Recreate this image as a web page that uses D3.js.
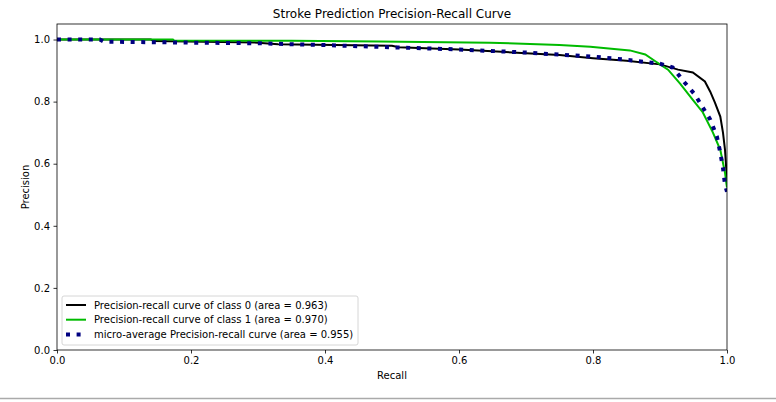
<!DOCTYPE html>
<html>
<head>
<meta charset="utf-8">
<script src="https://cdn.jsdelivr.net/npm/d3@7"></script>
<style>
  body { margin: 0; background: #fff; }
  text { font-family: "DejaVu Sans", sans-serif; fill: #000; }
</style>
</head>
<body>
<svg width="776" height="402"></svg>
<script>
// значения: полнота (recall) и точность (precision)
const class0Recall = [0, 0.02, 0.14, 0.145, 0.3, 0.33, 0.5, 0.51, 0.6, 0.65, 0.7, 0.75, 0.8, 0.85, 0.9, 0.927, 0.949, 0.967, 0.975, 0.982, 0.99, 0.994, 0.997, 0.999, 1.0];
const class0Precision = [1.0, 1.0, 1.0, 0.995, 0.99, 0.985, 0.98, 0.975, 0.968, 0.962, 0.956, 0.95, 0.94, 0.932, 0.92, 0.903, 0.894, 0.865, 0.832, 0.797, 0.752, 0.70, 0.645, 0.58, 0.53];

const class1Recall = [0, 0.173, 0.175, 0.35, 0.48, 0.646, 0.75, 0.796, 0.855, 0.878, 0.893, 0.9, 0.912, 0.93, 0.949, 0.964, 0.979, 0.99, 0.997, 1.0];
const class1Precision = [1.0, 1.0, 0.997, 0.996, 0.994, 0.99, 0.982, 0.977, 0.965, 0.952, 0.93, 0.92, 0.903, 0.858, 0.806, 0.765, 0.70, 0.645, 0.571, 0.523];

const microRecall = [0, 0.064, 0.07, 0.2, 0.3, 0.4, 0.5, 0.6, 0.7, 0.8, 0.85, 0.9, 0.919, 0.937, 0.952, 0.963, 0.975, 0.985, 0.99, 0.994, 0.997, 1.0];
const microPrecision = [1.0, 1.0, 0.993, 0.99, 0.988, 0.982, 0.975, 0.968, 0.958, 0.945, 0.935, 0.922, 0.91, 0.861, 0.823, 0.784, 0.742, 0.687, 0.635, 0.587, 0.532, 0.51];

const xTicks = [0, 0.2, 0.4, 0.6, 0.8, 1.0];
const yTicks = [0, 0.2, 0.4, 0.6, 0.8, 1.0];

const legendLabels = [
    "Precision-recall curve of class 0 (area = 0.963)",
    "Precision-recall curve of class 1 (area = 0.970)",
    "micro-average Precision-recall curve (area = 0.955)"
];

const svg = d3.select("svg");
const plotLeft = 57, plotRight = 727, plotTop = 24, plotBottom = 350;

const x = d3.scaleLinear().domain([0, 1]).range([plotLeft, plotRight]);
const y = d3.scaleLinear().domain([0, 1.05]).range([plotBottom, plotTop]);

// оси
svg.append("g")
    .attr("transform", `translate(0,${plotBottom})`)
    .call(d3.axisBottom(x).tickValues(xTicks).tickFormat(d3.format(".1f")).tickSize(3.5).tickPadding(3.5))
    .call(g => g.select(".domain").remove());
svg.append("g")
    .attr("transform", `translate(${plotLeft},0)`)
    .call(d3.axisLeft(y).tickValues(yTicks).tickFormat(d3.format(".1f")).tickSize(3.5).tickPadding(3.5))
    .call(g => g.select(".domain").remove());
svg.selectAll(".tick text").style("font-size", "10px").style("font-family", "DejaVu Sans");
svg.selectAll(".tick line").attr("stroke", "#000").attr("stroke-width", 0.8);

const line = d3.line()
    .x(d => x(d[0]))
    .y(d => y(d[1]));

const series = [
    {r: class0Recall, p: class0Precision, color: "#000000", width: 2, dash: null},
    {r: class1Recall, p: class1Precision, color: "#00bb00", width: 2, dash: null},
    {r: microRecall, p: microPrecision, color: "#000080", width: 4, dash: "4,6.6"}
];

svg.append("clipPath").attr("id", "clip")
    .append("rect").attr("x", plotLeft).attr("y", plotTop)
    .attr("width", plotRight - plotLeft).attr("height", plotBottom - plotTop);

series.forEach(s => {
    svg.append("path")
        .attr("clip-path", "url(#clip)")
        .attr("d", line(d3.zip(s.r, s.p)))
        .attr("fill", "none")
        .attr("stroke", s.color)
        .attr("stroke-width", s.width)
        .attr("stroke-dasharray", s.dash);
});

// рамка
svg.append("rect")
    .attr("x", plotLeft).attr("y", plotTop)
    .attr("width", plotRight - plotLeft).attr("height", plotBottom - plotTop)
    .attr("fill", "none").attr("stroke", "#000").attr("stroke-width", 0.8);

// подписи
svg.append("text")
    .attr("x", (plotLeft + plotRight) / 2).attr("y", plotTop - 6)
    .attr("text-anchor", "middle").style("font-size", "12px")
    .text("Stroke Prediction Precision-Recall Curve");
svg.append("text")
    .attr("x", (plotLeft + plotRight) / 2).attr("y", 379)
    .attr("text-anchor", "middle").style("font-size", "10px")
    .text("Recall");
svg.append("text")
    .attr("transform", `translate(29,${(plotTop + plotBottom) / 2}) rotate(-90)`)
    .attr("text-anchor", "middle").style("font-size", "10px")
    .text("Precision");

// легенда
const legend = svg.append("g").attr("transform", "translate(62,296)");
legend.append("rect")
    .attr("width", 296).attr("height", 49).attr("rx", 2)
    .attr("fill", "#fff").attr("fill-opacity", 0.8)
    .attr("stroke", "#cccccc").attr("stroke-width", 0.8);
legendLabels.forEach((label, i) => {
    const s = series[i];
    const ly = 9 + i * 14.7;
    legend.append("line")
        .attr("x1", 4).attr("x2", 24).attr("y1", ly).attr("y2", ly)
        .attr("stroke", s.color).attr("stroke-width", s.width)
        .attr("stroke-dasharray", s.dash);
    legend.append("text")
        .attr("x", 32).attr("y", ly + 3.5)
        .style("font-size", "10px")
        .text(label);
});

// серая линия внизу
svg.append("line")
    .attr("x1", 0).attr("x2", 776).attr("y1", 398.5).attr("y2", 398.5)
    .attr("stroke", "#aaaaaa").attr("stroke-width", 1.5);
</script>
</body>
</html>
